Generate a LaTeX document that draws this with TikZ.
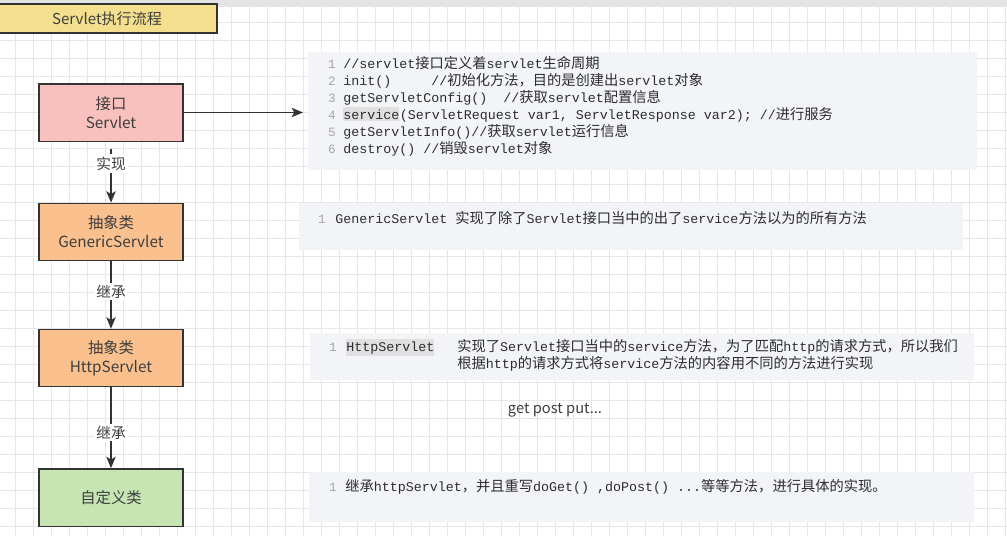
\documentclass[tikz,border=0pt]{standalone}
\usepackage{fontspec}
\setmonofont{Liberation Mono}
\newfontfamily\cjk{Noto Sans CJK SC}
\usetikzlibrary{arrows.meta, positioning}
\definecolor{linegray}{RGB}{51,51,51}
\definecolor{textgray}{RGB}{62,62,62}
\definecolor{codegray}{RGB}{45,45,45}
\definecolor{numgray}{RGB}{165,165,165}
\definecolor{gridgray}{RGB}{230,230,230}
\definecolor{topgray}{RGB}{228,228,230}
\definecolor{titlefill}{RGB}{244,223,142}
\definecolor{pinkfill}{RGB}{248,193,189}
\definecolor{orangefill}{RGB}{250,193,142}
\definecolor{greenfill}{RGB}{198,229,178}
\definecolor{panelfill}{RGB}{242,244,247}
\definecolor{hlgray}{RGB}{224,224,224}
\newcommand{\zh}[1]{{\cjk\fontsize{10.7}{12}\selectfont #1}}

\begin{document}
\begin{tikzpicture}[x=0.75pt, y=-0.75pt,
  box/.style={draw=linegray, line width=1pt, minimum width=108pt, minimum height=43pt,
    align=center, text=textgray, font=\cjk\fontsize{11.5}{14.3}\selectfont},
  conn/.style={draw=linegray, line width=1.1pt, -{Stealth[length=8.5pt,width=7pt,inset=2pt]}},
  lbl/.style={fill=white, inner sep=1.5pt, text=textgray, font=\cjk\fontsize{11}{13}\selectfont},
  panel/.style={fill=panelfill, anchor=north west, inner sep=0pt},
  code/.style={anchor=base west, inner sep=0pt, text=codegray, font=\ttfamily\fontsize{10}{12}\selectfont},
  lnum/.style={anchor=base, inner sep=0pt, text=numgray, font=\ttfamily\fontsize{9.5}{12}\selectfont},
  gridline/.style={draw=gridgray, line width=0.5pt}]
  \useasboundingbox (0,0) rectangle (1007,536);
  \fill[white] (0,0) rectangle (1007,536);
  % background grid
  \foreach \gx in {15,33,...,1007} \draw[gridline] (\gx,0) -- (\gx,536);
  \foreach \gy in {4,22,...,536} \draw[gridline] (0,\gy) -- (1007,\gy);
  \fill[topgray] (0,0) rectangle (1007,7);

  % title
  \node[draw=linegray, line width=1.2pt, fill=titlefill, minimum width=165pt, minimum height=21.75pt,
    text=textgray, font=\cjk\fontsize{11.3}{13}\selectfont] (title) at (107,18.5) {Servlet执行流程};

  % left column
  \node[box, fill=pinkfill] (servlet) at (111,112.5) {接口\\Servlet};
  \node[box, fill=orangefill] (generic) at (111,232) {抽象类\\GenericServlet};
  \node[box, fill=orangefill] (http) at (111,358) {抽象类\\HttpServlet};
  \node[box, fill=greenfill] (custom) at (111,497.5) {自定义类};

  % code panels
  \node[panel, minimum width=501.75pt, minimum height=88.5pt] (code1) at (308,52) {};
  \node[panel, minimum width=498pt, minimum height=35.25pt] (code2) at (299,203) {};
  \node[panel, minimum width=498pt, minimum height=35.25pt] (code3) at (310,333) {};
  \node[panel, minimum width=498.75pt, minimum height=37.5pt] (code4) at (309,472) {};

  % connectors
  \draw[conn, dash pattern=on 3.75pt off 9pt on 30pt off 5.25pt, dash phase=42.75pt]
    (servlet) -- node[lbl, pos=.37] (impl) {实现} (generic);
  \draw[conn] (generic) -- node[lbl, pos=.45] (ext1) {继承} (http);
  \draw[conn] (http) -- node[lbl, pos=.56] (ext2) {继承} (custom);
  \draw[conn, shorten >=3.75pt] (servlet.east) -- (servlet.east -| code1.west);

  % panel 1
  \foreach \i/\yb in {1/68,2/85,3/102,4/119,5/136,6/153}
    \node[lnum] (n\i) at (332,\yb) {\i};
  \node[code] (l1) at (343,68) {//servlet\zh{接口定义着}servlet\zh{生命周期}};
  \node[code] (l2) at (343,85) {init()\ \ \ \ \ //\zh{初始化方法，目的是创建出}servlet\zh{对象}};
  \node[code] (l3) at (343,102) {getServletConfig()\ \ //\zh{获取}servlet\zh{配置信息}};
  \node[code, fill=hlgray, inner ysep=1.5pt] (svc) at (343,119) {service};
  \node[code] (l4) at (svc.base east) {(ServletRequest var1, ServletResponse var2); //\zh{进行服务}};
  \node[code] (l5) at (343,136) {getServletInfo()//\zh{获取}servlet\zh{运行信息}};
  \node[code] (l6) at (343,153) {destroy() //\zh{销毁}servlet\zh{对象}};

  % panel 2
  \node[lnum] (m1) at (322,223) {1};
  \node[code] (g1) at (335,223) {GenericServlet \zh{实现了除了}Servlet\zh{接口当中的出了}service\zh{方法以为的所有方法}};

  % panel 3
  \node[lnum] (k1) at (333,351) {1};
  \node[code, fill=hlgray, inner ysep=1.5pt] (hs) at (346,351) {HttpServlet};
  \node[code] (h1) at (457,351) {\zh{实现了}Servlet\zh{接口当中的}service\zh{方法，为了匹配}http\zh{的请求方式，所以我们}};
  \node[code] (h2) at (457,368) {\zh{根据}http\zh{的请求方式将}service\zh{方法的内容用不同的方法进行实现}};

  \node[text=textgray, font=\cjk\fontsize{11}{13}\selectfont] (methods) at (555,410) {get post put...};

  % panel 4
  \node[lnum] (j1) at (333,491) {1};
  \node[code] (d1) at (345,491) {\zh{继承}httpServlet\zh{，并且重写}doGet() ,doPost() ...\zh{等等方法，进行具体的实现。}};
\end{tikzpicture}
\end{document}
